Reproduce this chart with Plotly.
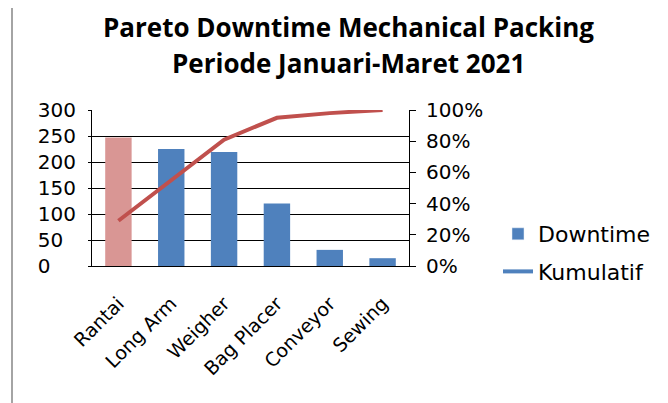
import plotly.graph_objects as go

categories = ["Rantai", "Long Arm", "Weigher", "Bag Placer", "Conveyor", "Sewing"]
downtime = [247, 225, 219, 120, 31, 15]
kumulatif = [0.29, 0.55, 0.81, 0.95, 0.98, 1.00]
bar_colors = ["#D99694", "#4F81BD", "#4F81BD", "#4F81BD", "#4F81BD", "#4F81BD"]
left_ticks = [0, 50, 100, 150, 200, 250, 300]
title_line1 = "Pareto Downtime Mechanical Packing"
title_line2 = "Periode Januari-Maret 2021"
FS = "\u2007"
left_ticktext = [str(v) + FS * (3 - len(str(v))) for v in left_ticks]

FONT = "DejaVu Sans"
TFONT = "Open Sans"

fig = go.Figure()
fig.add_trace(go.Bar(x=categories, y=downtime, marker=dict(color=bar_colors, line=dict(width=0)),
                     showlegend=False, name="Downtime"))
fig.add_trace(go.Scatter(x=categories, y=kumulatif, mode="lines", yaxis="y2",
                         line=dict(color="#C0504D", width=4), showlegend=False, name="Kumulatif"))
# legend entries (Excel shows both in blue)
fig.add_trace(go.Bar(x=[None], y=[None], marker=dict(color="#4F81BD"), name="Downtime",
                     legendgroup="a"))
fig.add_trace(go.Scatter(x=[None], y=[None], mode="lines", yaxis="y2",
                         line=dict(color="#4F81BD", width=4), name="Kumulatif", legendgroup="b"))

# page has 8px body margin -> figure origin at page (8, 8)
OFF = 8
W, H = 668 - OFF, 403 - OFF
PL, PR, PT, PB = 92, 409, 110, 266  # plot area in page pixels
L, T = PL - OFF, PT - OFF
R, B = W - (PR - OFF), H - (PB - OFF)
pw, ph = W - L - R, H - T - B

def px(x):
    return (x - OFF - L) / pw

def py(y):
    return (H - B - (y - OFF)) / ph

title_font = dict(family=TFONT, size=26, color="black")

fig.update_layout(
    width=W, height=H,
    margin=dict(l=L, r=R, t=T, b=B),
    paper_bgcolor="white", plot_bgcolor="white",
    font=dict(family=FONT, size=19, color="black"),
    bargap=0.5,
    xaxis=dict(tickangle=-45, showline=True, linecolor="black", linewidth=1, ticks="",
               tickfont=dict(size=19), ticklabelstandoff=18),
    yaxis=dict(range=[0, 300], tickvals=left_ticks, ticktext=left_ticktext, showgrid=True,
               gridcolor="black", gridwidth=1, showline=True, linecolor="black", linewidth=1,
               ticks="outside", ticklen=3, tickcolor="black", zeroline=False,
               tickfont=dict(size=20), ticklabelstandoff=8),
    yaxis2=dict(range=[0, 1], dtick=0.2, tickformat=".0%", overlaying="y", side="right",
                showgrid=False, showline=True, linecolor="black", linewidth=1, ticks="outside",
                ticklen=6, tickcolor="black", zeroline=False, tickfont=dict(size=20),
                ticklabelstandoff=6),
    legend=dict(x=px(498), y=py(213), xanchor="left", yanchor="top", font=dict(size=22),
                tracegroupgap=6, itemwidth=30, bgcolor="rgba(0,0,0,0)"),
    annotations=[
        dict(text=f"<b>{title_line1}</b>", xref="paper", yref="paper", x=px(348), y=py(27),
             xanchor="center", yanchor="middle", showarrow=False, font=title_font),
        dict(text=f"<b>{title_line2}</b>", xref="paper", yref="paper", x=px(348), y=py(63),
             xanchor="center", yanchor="middle", showarrow=False, font=title_font),
    ],
    shapes=[dict(type="path", xref="paper", yref="paper",
                 path=f"M {px(12)} {py(420)} L {px(12)} {py(6)} L {px(700)} {py(6)}",
                 line=dict(color="#878787", width=1.5))],
)

fig.write_html("out.html")
